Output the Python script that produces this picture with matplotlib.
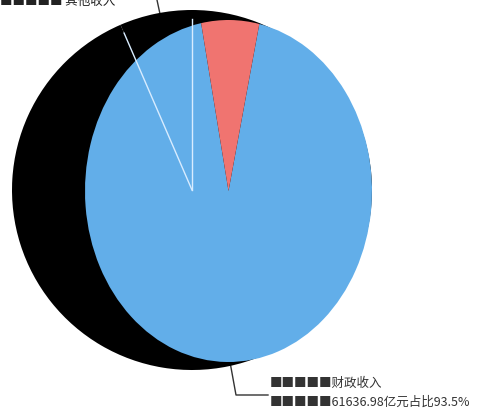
import numpy as np
import matplotlib.pyplot as plt

plt.rcParams['font.family'] = ['Noto Sans CJK SC', 'DejaVu Sans']

# slice data
labels = ['财政收入', '其他收入']
values = [61636.98, 4285.00]
colors = ['#62aee9', '#f07470']

share = values[1] / sum(values) * 360

fig = plt.figure(figsize=(4.93, 4.18), dpi=100)

# background axes in pixel units
ax = fig.add_axes([0, 0, 1, 1])
ax.set_xlim(0, 493)
ax.set_ylim(418, 0)
ax.axis('off')

shadow_box = [12 / 493, 1 - 370 / 418, 360 / 493, 360 / 418]

# dark shadow pie behind
axs = fig.add_axes(shadow_box)
shadow, _ = axs.pie(values, colors=['black', 'black'], startangle=90 + share,
                    counterclock=True, wedgeprops=dict(linewidth=0))
axs.set_aspect('auto')
axs.set_xlim(-1, 1)
axs.set_ylim(-1, 1)

# main pie (stretched)
axp = fig.add_axes([85 / 493, 1 - 362 / 418, 287 / 493, 342 / 418])
axp.pie(values, colors=colors, startangle=101 - share,
        counterclock=False, wedgeprops=dict(linewidth=0))
axp.set_aspect('auto')
axp.set_xlim(-1, 1)
axp.set_ylim(-1, 1)

# radial borders of the shadow slices, showing through on top
axo = fig.add_axes(shadow_box)
axo.axis('off')
axo.set_xlim(-1, 1)
axo.set_ylim(-1, 1)
for w in shadow:
    t = np.deg2rad(w.theta1)
    axo.plot([0, 0.95 * np.cos(t)], [0, 0.95 * np.sin(t)], color='#d8ecff', lw=1)

# leader lines
ax.plot([230, 236, 268], [362, 395, 395], color='#333333', lw=1)
ax.plot([157, 160], [0, 14], color='#333333', lw=1)

# labels
pct = values[0] / sum(values) * 100
ax.text(270, 383, '■■■■■' + labels[0], fontsize=9, color='#333333', va='center')
ax.text(270, 402, '■■■■■%.2f亿元占比%.1f%%' % (values[0], pct), fontsize=9,
        color='#333333', va='center')
ax.text(0, 1, '■■■■■ ' + labels[1], fontsize=9, color='#222222', va='center')

fig.savefig('out.png', dpi=100)
